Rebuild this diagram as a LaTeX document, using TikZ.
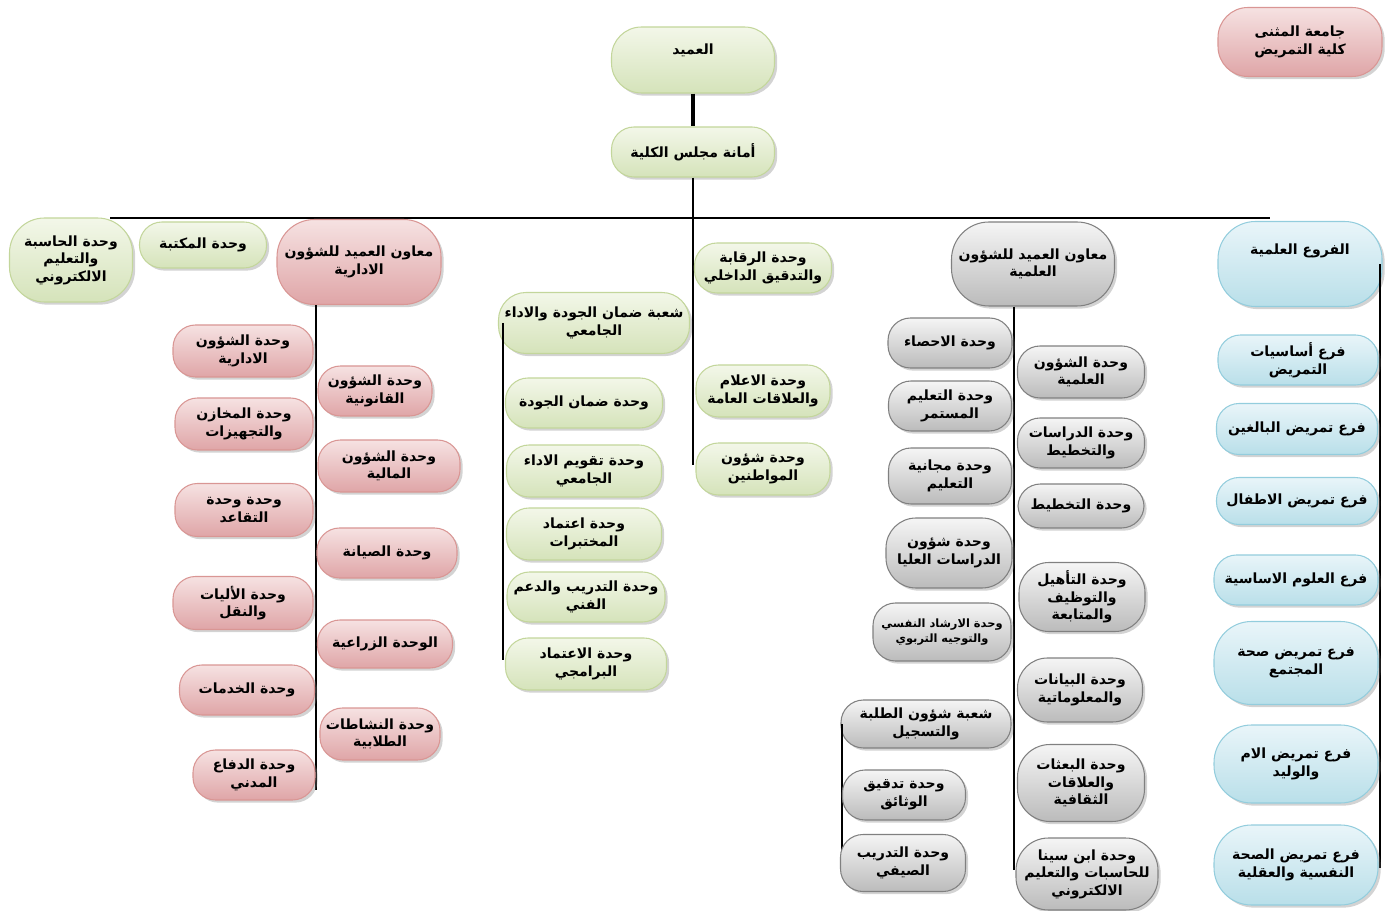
\documentclass[tikz,border=0pt]{standalone}
\usepackage{fontspec}
\usetikzlibrary{shadows}
\TeXXeTstate=1
\newfontfamily\arfont[Script=Arabic]{DejaVu Sans}
\newcommand\ar[1]{\beginR#1\endR}

\definecolor{grnL}{HTML}{F3F7E9}
\definecolor{grnD}{HTML}{D5E3BA}
\definecolor{grnB}{HTML}{C3D69B}
\definecolor{pnkL}{HTML}{F6E2E2}
\definecolor{pnkD}{HTML}{DFA5A7}
\definecolor{pnkB}{HTML}{D99694}
\definecolor{gryL}{HTML}{F5F5F5}
\definecolor{gryD}{HTML}{BBBBBB}
\definecolor{gryB}{HTML}{808080}
\definecolor{bluL}{HTML}{E9F5F9}
\definecolor{bluD}{HTML}{B9DFE9}
\definecolor{bluB}{HTML}{93CDDD}

\tikzset{
  unit/.style={draw, align=center, inner sep=1pt, rounded corners=0.45cm,
    font=\arfont\bfseries\fontsize{8}{10}\selectfont, line width=0.6pt,
    drop shadow={opacity=0.35, shadow xshift=1.5pt, shadow yshift=-1.5pt}},
  grnbox/.style={unit, draw=grnB, top color=grnL, bottom color=grnD},
  pnkbox/.style={unit, draw=pnkB, top color=pnkL, bottom color=pnkD},
  grybox/.style={unit, draw=gryB, top color=gryL, bottom color=gryD},
  blubox/.style={unit, draw=bluB, top color=bluL, bottom color=bluD},
  sz/.style 2 args={minimum width=#1*0.02cm, minimum height=#2*0.02cm},
  trunk/.style={line width=1.6pt, black},
}

\begin{document}
\begin{tikzpicture}[x=0.02cm, y=0.02cm]
  \useasboundingbox (0,0) rectangle (1392,-911);

  % top
  \node[grnbox, sz={163}{66}, rounded corners=0.6cm, text depth=12pt] (dean) at (693,-60) {\ar{العميد}};
  \node[grnbox, sz={163}{50}] (council) at (693,-152) {\ar{أمانة مجلس الكلية}};
  \node[pnkbox, sz={164}{69}, rounded corners=0.6cm] (univ) at (1300,-42) {\ar{جامعة المثنى}\\\ar{كلية التمريض}};

  \coordinate (barL) at (110,-218);
  \coordinate (barR) at (1270,-218);
  \coordinate (midEnd) at (693,-465);
  \draw[trunk, line width=2pt] (dean) -- (council);
  \draw[trunk] (barL) -- (barR);
  \draw[trunk] (council.south) -- (midEnd);

  % left side
  \node[grnbox, sz={123}{84}, rounded corners=0.7cm] (computing) at (71,-260) {\ar{وحدة الحاسبة}\\\ar{والتعليم}\\\ar{الالكتروني}};
  \node[grnbox, sz={127}{46}] (library) at (203,-245) {\ar{وحدة المكتبة}};
  \node[pnkbox, sz={164}{85}, rounded corners=0.75cm] (admin) at (359,-262) {\ar{معاون العميد للشؤون}\\\ar{الادارية}};

  \coordinate (admEnd) at (316,-790);
  \draw[trunk] (admin.south -| admEnd) -- (admEnd);

  \node[pnkbox, sz={140}{52}] (adminAff) at (243,-351) {\ar{وحدة الشؤون}\\\ar{الادارية}};
  \node[pnkbox, sz={138}{52}] (stores) at (244,-424) {\ar{وحدة المخازن}\\\ar{والتجهيزات}};
  \node[pnkbox, sz={138}{53}] (retire) at (244,-510) {\ar{وحدة وحدة}\\\ar{التقاعد}};
  \node[pnkbox, sz={140}{53}] (vehicles) at (243,-603) {\ar{وحدة الأليات}\\\ar{والنقل}};
  \node[pnkbox, sz={135}{50}] (services) at (247,-690) {\ar{وحدة الخدمات}};
  \node[pnkbox, sz={122}{50}] (civil) at (254,-775) {\ar{وحدة الدفاع}\\\ar{المدني}};

  \node[pnkbox, sz={114}{50}] (legal) at (375,-391) {\ar{وحدة الشؤون}\\\ar{القانونية}};
  \node[pnkbox, sz={142}{52}] (finance) at (389,-466) {\ar{وحدة الشؤون}\\\ar{المالية}};
  \node[pnkbox, sz={140}{50}] (maint) at (387,-553) {\ar{وحدة الصيانة}};
  \node[pnkbox, sz={135}{48}] (agri) at (385,-644) {\ar{الوحدة الزراعية}};
  \node[pnkbox, sz={120}{52}] (activity) at (380,-734) {\ar{وحدة النشاطات}\\\ar{الطلابية}};

  % middle
  \node[grnbox, sz={191}{61}, rounded corners=0.55cm] (quality) at (594,-323) {\ar{شعبة ضمان الجودة والاداء}\\\ar{الجامعي}};
  \coordinate (qEnd) at (503,-660);
  \draw[trunk] (qEnd |- quality.west) -- (qEnd);

  \node[grnbox, sz={157}{50}] (qa) at (584,-403) {\ar{وحدة ضمان الجودة}};
  \node[grnbox, sz={155}{52}] (perf) at (584,-471) {\ar{وحدة تقويم الاداء}\\\ar{الجامعي}};
  \node[grnbox, sz={155}{52}] (labs) at (584,-534) {\ar{وحدة اعتماد}\\\ar{المختبرات}};
  \node[grnbox, sz={158}{50}] (training) at (586,-597) {\ar{وحدة التدريب والدعم}\\\ar{الفني}};
  \node[grnbox, sz={161}{52}] (accred) at (586,-664) {\ar{وحدة الاعتماد}\\\ar{البرامجي}};

  \node[grnbox, sz={137}{50}] (audit) at (763,-268) {\ar{وحدة الرقابة}\\\ar{والتدقيق الداخلي}};
  \node[grnbox, sz={134}{52}] (media) at (763,-391) {\ar{وحدة الاعلام}\\\ar{والعلاقات العامة}};
  \node[grnbox, sz={134}{52}] (citizens) at (763,-469) {\ar{وحدة شؤون}\\\ar{المواطنين}};

  % scientific deputy
  \node[grybox, sz={163}{84}, rounded corners=0.75cm] (science) at (1033,-264) {\ar{معاون العميد للشؤون}\\\ar{العلمية}};
  \coordinate (sciEnd) at (1014,-870);
  \draw[trunk] (science.south -| sciEnd) -- (sciEnd);

  \node[grybox, sz={124}{50}] (stats) at (950,-343) {\ar{وحدة الاحصاء}};
  \node[grybox, sz={123}{50}] (contEdu) at (950,-406) {\ar{وحدة التعليم}\\\ar{المستمر}};
  \node[grybox, sz={123}{56}] (freeEdu) at (950,-476) {\ar{وحدة مجانية}\\\ar{التعليم}};
  \node[grybox, sz={126}{70}, rounded corners=0.6cm] (postgrad) at (949,-553) {\ar{وحدة شؤون}\\\ar{الدراسات العليا}};
  \node[grybox, sz={138}{58}, font=\arfont\bfseries\fontsize{6.5}{9}\selectfont] (guidance) at (942,-632) {\ar{وحدة الارشاد النفسي}\\\ar{والتوجيه التربوي}};
  \node[grybox, sz={170}{48}] (students) at (926,-724) {\ar{شعبة شؤون الطلبة}\\\ar{والتسجيل}};
  \coordinate (stEnd) at (842,-850);
  \draw[trunk] (stEnd |- students.west) -- (stEnd);
  \node[grybox, sz={123}{50}] (docs) at (904,-795) {\ar{وحدة تدقيق}\\\ar{الوثائق}};
  \node[grybox, sz={125}{57}] (summer) at (903,-863) {\ar{وحدة التدريب}\\\ar{الصيفي}};

  \node[grybox, sz={127}{52}] (sciAff) at (1081,-372) {\ar{وحدة الشؤون}\\\ar{العلمية}};
  \node[grybox, sz={127}{50}] (studies) at (1081,-443) {\ar{وحدة الدراسات}\\\ar{والتخطيط}};
  \node[grybox, sz={126}{44}] (planning) at (1081,-506) {\ar{وحدة التخطيط}};
  \node[grybox, sz={126}{69}, rounded corners=0.6cm] (employ) at (1082,-597) {\ar{وحدة التأهيل}\\\ar{والتوظيف}\\\ar{والمتابعة}};
  \node[grybox, sz={125}{64}, rounded corners=0.6cm] (data) at (1080,-690) {\ar{وحدة البيانات}\\\ar{والمعلوماتية}};
  \node[grybox, sz={127}{77}, rounded corners=0.65cm] (missions) at (1081,-783) {\ar{وحدة البعثات}\\\ar{والعلاقات}\\\ar{الثقافية}};
  \node[grybox, sz={142}{72}, rounded corners=0.65cm] (ibnsina) at (1087,-874) {\ar{وحدة ابن سينا}\\\ar{للحاسبات والتعليم}\\\ar{الالكتروني}};

  % branches
  \node[blubox, sz={164}{85}, rounded corners=0.75cm, text depth=17pt] (branches) at (1300,-264) {\ar{الفروع العلمية}};
  \coordinate (brEnd) at (1380,-868);
  \draw[trunk] (brEnd |- branches.east) -- (brEnd);

  \node[blubox, sz={160}{50}] (basics) at (1298,-360) {\ar{فرع أساسيات}\\\ar{التمريض}};
  \node[blubox, sz={161}{51}] (adult) at (1297,-429) {\ar{فرع تمريض البالغين}};
  \node[blubox, sz={161}{47}] (child) at (1297,-501) {\ar{فرع تمريض الاطفال}};
  \node[blubox, sz={164}{50}] (basicSci) at (1296,-580) {\ar{فرع العلوم الاساسية}};
  \node[blubox, sz={164}{83}, rounded corners=0.75cm] (community) at (1296,-663) {\ar{فرع تمريض صحة}\\\ar{المجتمع}};
  \node[blubox, sz={164}{78}, rounded corners=0.75cm] (maternity) at (1296,-764) {\ar{فرع تمريض الام}\\\ar{والوليد}};
  \node[blubox, sz={164}{80}, rounded corners=0.75cm] (psych) at (1296,-865) {\ar{فرع تمريض الصحة}\\\ar{النفسية والعقلية}};
\end{tikzpicture}
\end{document}
